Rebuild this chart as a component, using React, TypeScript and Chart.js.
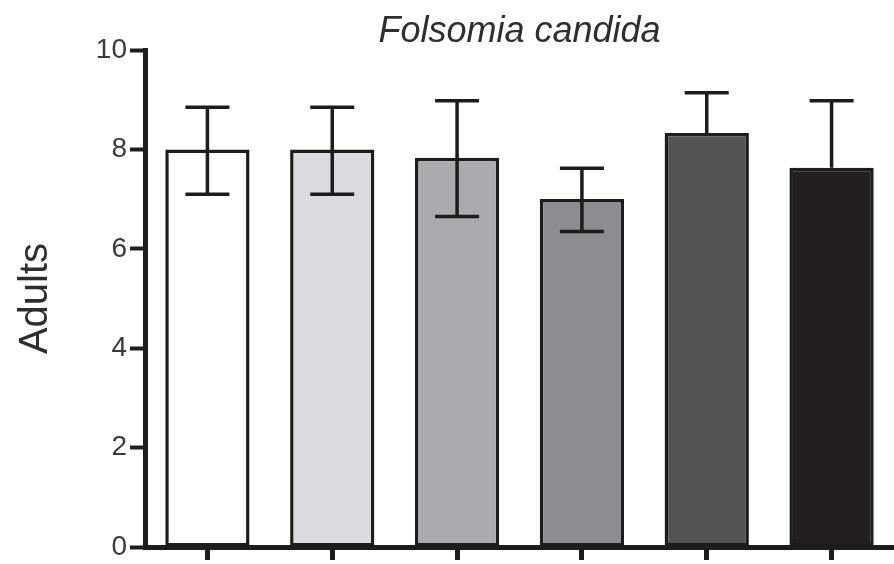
import React, { useEffect, useRef } from "react";
import { Chart, registerables } from "chart.js";

Chart.register(...registerables);

const categories = ["1", "2", "3", "4", "5", "6"];
const means = [8.0, 8.0, 7.83, 7.0, 8.33, 7.63];
const errorUpper = [8.85, 8.85, 8.98, 7.62, 9.14, 8.98];
const errorLower: (number | null)[] = [7.1, 7.1, 6.65, 6.35, null, null];
const barColors = ["#ffffff", "#d9dbde", "#a9abae", "#8c8d91", "#545457", "#231f20"];
const yTicks = [0, 2, 4, 6, 8, 10];

const FONT = "'Liberation Sans', Arial, Helvetica, sans-serif";
const INK = "#1c1c1c";

const errorBarPlugin = {
  id: "errorBars",
  afterDatasetsDraw(chart: any) {
    const meta = chart.getDatasetMeta(0);
    const y = chart.scales.y;
    const ctx = chart.ctx;
    ctx.save();
    ctx.strokeStyle = INK;
    ctx.lineWidth = 3.5;
    ctx.lineCap = "butt";
    meta.data.forEach((bar: any, i: number) => {
      const x = bar.x;
      const hi = y.getPixelForValue(errorUpper[i]);
      const lo = errorLower[i] == null ? y.getPixelForValue(means[i]) : y.getPixelForValue(errorLower[i] as number);
      const half = 22;
      ctx.beginPath();
      ctx.moveTo(x, hi);
      ctx.lineTo(x, lo);
      ctx.moveTo(x - half, hi);
      ctx.lineTo(x + half, hi);
      if (errorLower[i] != null) {
        ctx.moveTo(x - half, lo);
        ctx.lineTo(x + half, lo);
      }
      ctx.stroke();
    });
    ctx.restore();
  },
};

export default function App() {
  const ref = useRef<HTMLCanvasElement | null>(null);
  useEffect(() => {
    if (!ref.current) return;
    const chart = new Chart(ref.current, {
      type: "bar",
      data: {
        labels: categories,
        datasets: [
          {
            data: means,
            backgroundColor: barColors,
            borderColor: INK,
            borderWidth: 3.5,
            borderSkipped: false,
            barPercentage: 0.675,
            categoryPercentage: 1,
          },
        ],
      },
      options: {
        responsive: false,
        animation: false,
        layout: { padding: 0 },
        plugins: {
          legend: { display: false },
          tooltip: { enabled: false },
          title: {
            display: true,
            text: "Folsomia candida",
            fullSize: false,
            color: "#2e2e2e",
            font: { family: FONT, size: 36, style: "italic", weight: "normal", lineHeight: 1 },
            padding: { top: 14, bottom: 0 },
          },
        },
        scales: {
          x: {
            offset: true,
            afterFit: (s: any) => {
              s.height = 16;
            },
            ticks: { display: false },
            grid: {
              drawOnChartArea: false,
              offset: false,
              tickLength: 13,
              tickWidth: 5,
              tickColor: INK,
            },
            border: { display: true, width: 5, color: INK },
          },
          y: {
            min: 0,
            max: 10,
            afterFit: (s: any) => {
              s.width = 145;
            },
            afterBuildTicks: (s: any) => {
              s.ticks = yTicks.map((v) => ({ value: v }));
            },
            ticks: {
              color: "#3a3a3a",
              padding: 3,
              font: { family: FONT, size: 28, lineHeight: 1 },
            },
            grid: {
              drawOnChartArea: false,
              tickLength: 15,
              tickWidth: 4,
              tickColor: INK,
            },
            border: { display: true, width: 5, color: INK },
            title: {
              display: true,
              text: "Adults",
              color: "#2e2e2e",
              font: { family: FONT, size: 40, weight: "normal" },
              padding: { top: 12, bottom: 0 },
            },
          },
        },
      },
      plugins: [errorBarPlugin],
    });
    return () => chart.destroy();
  }, []);
  return (
    <div style={{ position: "fixed", left: 0, top: 0, width: 894, height: 564, background: "#fff" }}>
      <canvas ref={ref} width={894} height={564} style={{ display: "block" }} />
    </div>
  );
}
